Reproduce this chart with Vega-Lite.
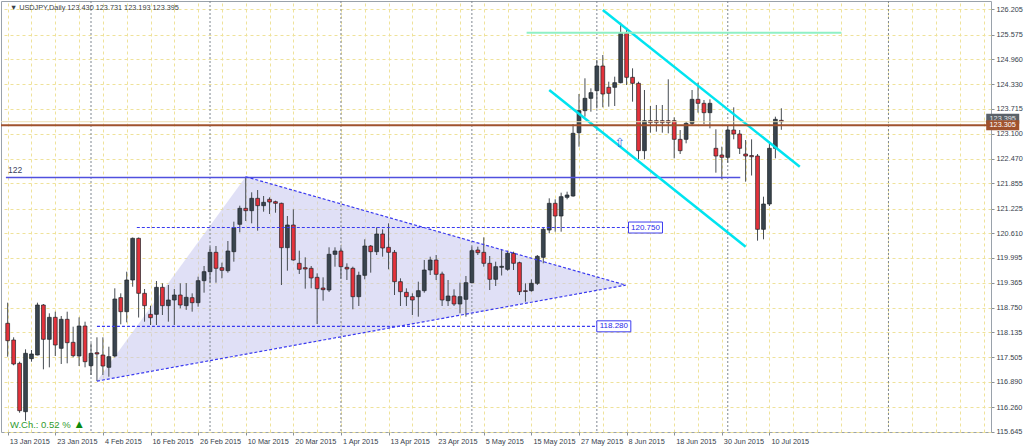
{
 "$schema": "https://vega.github.io/schema/vega-lite/v6.json",
 "width": 990,
 "height": 431,
 "autosize": {"type": "none"},
 "padding": {"left": 1, "top": 1, "right": 33, "bottom": 15},
 "background": "#ffffff",
 "config": {
  "view": {"stroke": "#9aa2ab", "strokeWidth": 1},
  "axis": {"labelFont": "Liberation Sans", "labelFontSize": 7.3, "labelColor": "#38424c", "domain": false, "tickColor": "#8a929a", "titleOpacity": 0, "labelOverlap": false}
 },
 "datasets": {
  "candles": [
   {"d":"2015-01-13","i":0,"o":118.355,"h":118.871,"l":117.521,"c":117.921},
   {"d":"2015-01-14","i":1,"o":117.938,"h":118.005,"l":117.305,"c":117.338},
   {"d":"2015-01-15","i":2,"o":117.355,"h":117.396,"l":116.12,"c":116.171},
   {"d":"2015-01-16","i":3,"o":116.146,"h":117.705,"l":115.92,"c":117.605},
   {"d":"2015-01-19","i":4,"o":117.471,"h":117.688,"l":117.396,"c":117.588},
   {"d":"2015-01-20","i":5,"o":117.563,"h":118.871,"l":117.555,"c":118.813},
   {"d":"2015-01-21","i":6,"o":118.813,"h":118.838,"l":117.205,"c":117.955},
   {"d":"2015-01-22","i":7,"o":117.955,"h":118.605,"l":117.255,"c":118.505},
   {"d":"2015-01-23","i":8,"o":118.505,"h":118.646,"l":117.538,"c":117.813},
   {"d":"2015-01-26","i":9,"o":117.73,"h":118.538,"l":117.338,"c":118.455},
   {"d":"2015-01-27","i":10,"o":118.455,"h":118.646,"l":117.355,"c":117.871},
   {"d":"2015-01-28","i":11,"o":117.88,"h":118.271,"l":117.505,"c":117.546},
   {"d":"2015-01-29","i":12,"o":117.538,"h":118.505,"l":117.288,"c":118.288},
   {"d":"2015-01-30","i":13,"o":118.288,"h":118.396,"l":117.255,"c":117.396},
   {"d":"2015-02-02","i":14,"o":117.296,"h":117.855,"l":117.063,"c":117.605},
   {"d":"2015-02-03","i":15,"o":117.621,"h":118.005,"l":116.91,"c":117.588},
   {"d":"2015-02-04","i":16,"o":117.563,"h":118.005,"l":117.063,"c":117.288},
   {"d":"2015-02-05","i":17,"o":117.255,"h":117.771,"l":117.021,"c":117.521},
   {"d":"2015-02-06","i":18,"o":117.538,"h":119.23,"l":117.505,"c":118.963},
   {"d":"2015-02-09","i":19,"o":118.997,"h":119.105,"l":118.33,"c":118.646},
   {"d":"2015-02-10","i":20,"o":118.646,"h":119.646,"l":118.38,"c":119.438},
   {"d":"2015-02-11","i":21,"o":119.438,"h":120.5,"l":119.27,"c":120.48},
   {"d":"2015-02-12","i":22,"o":120.48,"h":120.5,"l":118.5,"c":119.105},
   {"d":"2015-02-13","i":23,"o":119.105,"h":119.213,"l":118.396,"c":118.796},
   {"d":"2015-02-16","i":24,"o":118.58,"h":118.796,"l":118.313,"c":118.496},
   {"d":"2015-02-17","i":25,"o":118.58,"h":119.413,"l":118.313,"c":119.255},
   {"d":"2015-02-18","i":26,"o":119.255,"h":119.355,"l":118.563,"c":118.796},
   {"d":"2015-02-19","i":27,"o":118.796,"h":119.313,"l":118.396,"c":118.938},
   {"d":"2015-02-20","i":28,"o":118.938,"h":119.213,"l":118.313,"c":119.063},
   {"d":"2015-02-23","i":29,"o":119.063,"h":119.355,"l":118.73,"c":118.813},
   {"d":"2015-02-24","i":30,"o":118.796,"h":119.36,"l":118.69,"c":119.005},
   {"d":"2015-02-25","i":31,"o":118.996,"h":119.105,"l":118.646,"c":118.871},
   {"d":"2015-02-26","i":32,"o":118.871,"h":119.521,"l":118.771,"c":119.421},
   {"d":"2015-02-27","i":33,"o":119.421,"h":119.788,"l":119.121,"c":119.646},
   {"d":"2015-03-02","i":34,"o":119.646,"h":120.271,"l":119.371,"c":120.13},
   {"d":"2015-03-03","i":35,"o":120.13,"h":120.288,"l":119.371,"c":119.73},
   {"d":"2015-03-04","i":36,"o":119.746,"h":119.871,"l":119.48,"c":119.68},
   {"d":"2015-03-05","i":37,"o":119.671,"h":120.413,"l":119.621,"c":120.163},
   {"d":"2015-03-06","i":38,"o":120.146,"h":120.896,"l":119.896,"c":120.746},
   {"d":"2015-03-09","i":39,"o":120.83,"h":121.296,"l":120.63,"c":121.23},
   {"d":"2015-03-10","i":40,"o":121.23,"h":122.021,"l":120.913,"c":121.171},
   {"d":"2015-03-11","i":41,"o":121.171,"h":121.63,"l":120.855,"c":121.48},
   {"d":"2015-03-12","i":42,"o":121.48,"h":121.688,"l":120.671,"c":121.296},
   {"d":"2015-03-13","i":43,"o":121.296,"h":121.538,"l":121.146,"c":121.38},
   {"d":"2015-03-16","i":44,"o":121.455,"h":121.505,"l":121.088,"c":121.388},
   {"d":"2015-03-17","i":45,"o":121.396,"h":121.421,"l":121.121,"c":121.355},
   {"d":"2015-03-18","i":46,"o":121.355,"h":121.371,"l":119.313,"c":120.246},
   {"d":"2015-03-19","i":47,"o":120.246,"h":121.038,"l":119.671,"c":120.813},
   {"d":"2015-03-20","i":48,"o":120.813,"h":121.205,"l":119.921,"c":119.938},
   {"d":"2015-03-23","i":49,"o":119.855,"h":120.171,"l":119.588,"c":119.705},
   {"d":"2015-03-24","i":50,"o":119.746,"h":120.005,"l":119.221,"c":119.713},
   {"d":"2015-03-25","i":51,"o":119.73,"h":119.788,"l":119.23,"c":119.488},
   {"d":"2015-03-26","i":52,"o":119.505,"h":119.605,"l":118.338,"c":119.221},
   {"d":"2015-03-27","i":53,"o":119.238,"h":119.505,"l":118.921,"c":119.196},
   {"d":"2015-03-30","i":54,"o":119.188,"h":120.255,"l":119.138,"c":120.08},
   {"d":"2015-03-31","i":55,"o":120.08,"h":120.255,"l":119.771,"c":120.163},
   {"d":"2015-04-01","i":56,"o":120.163,"h":120.255,"l":119.471,"c":119.771},
   {"d":"2015-04-02","i":57,"o":119.755,"h":119.855,"l":119.438,"c":119.713},
   {"d":"2015-04-03","i":58,"o":119.73,"h":119.771,"l":118.705,"c":119.021},
   {"d":"2015-04-06","i":59,"o":119.021,"h":119.646,"l":118.788,"c":119.555},
   {"d":"2015-04-07","i":60,"o":119.555,"h":120.455,"l":119.455,"c":120.288},
   {"d":"2015-04-08","i":61,"o":120.288,"h":120.313,"l":119.621,"c":120.146},
   {"d":"2015-04-09","i":62,"o":120.146,"h":120.755,"l":120.063,"c":120.588},
   {"d":"2015-04-10","i":63,"o":120.588,"h":120.705,"l":120.021,"c":120.238},
   {"d":"2015-04-13","i":64,"o":120.255,"h":120.855,"l":119.705,"c":120.13},
   {"d":"2015-04-14","i":65,"o":120.13,"h":120.188,"l":119.063,"c":119.396},
   {"d":"2015-04-15","i":66,"o":119.396,"h":119.48,"l":118.788,"c":119.146},
   {"d":"2015-04-16","i":67,"o":119.13,"h":119.23,"l":118.788,"c":119.021},
   {"d":"2015-04-17","i":68,"o":119.021,"h":119.105,"l":118.563,"c":118.938},
   {"d":"2015-04-20","i":69,"o":119.021,"h":119.396,"l":118.521,"c":119.171},
   {"d":"2015-04-21","i":70,"o":119.171,"h":119.938,"l":119.121,"c":119.688},
   {"d":"2015-04-22","i":71,"o":119.688,"h":120.021,"l":119.563,"c":119.938},
   {"d":"2015-04-23","i":72,"o":119.938,"h":120.063,"l":119.438,"c":119.58},
   {"d":"2015-04-24","i":73,"o":119.588,"h":119.646,"l":118.788,"c":118.938},
   {"d":"2015-04-27","i":74,"o":118.921,"h":119.438,"l":118.788,"c":119.038},
   {"d":"2015-04-28","i":75,"o":119.038,"h":119.205,"l":118.788,"c":118.838},
   {"d":"2015-04-29","i":76,"o":118.838,"h":119.371,"l":118.605,"c":119.021},
   {"d":"2015-04-30","i":77,"o":118.955,"h":119.538,"l":118.521,"c":119.371},
   {"d":"2015-05-01","i":78,"o":119.371,"h":120.271,"l":119.355,"c":120.171},
   {"d":"2015-05-04","i":79,"o":120.188,"h":120.271,"l":120.063,"c":120.121},
   {"d":"2015-05-05","i":80,"o":120.13,"h":120.505,"l":119.771,"c":119.855},
   {"d":"2015-05-06","i":81,"o":119.855,"h":120.038,"l":119.188,"c":119.455},
   {"d":"2015-05-07","i":82,"o":119.455,"h":119.896,"l":119.288,"c":119.771},
   {"d":"2015-05-08","i":83,"o":119.755,"h":120.2,"l":119.55,"c":119.78},
   {"d":"2015-05-11","i":84,"o":119.705,"h":120.171,"l":119.67,"c":120.105},
   {"d":"2015-05-12","i":85,"o":120.105,"h":120.146,"l":119.688,"c":119.855},
   {"d":"2015-05-13","i":86,"o":119.871,"h":119.896,"l":119.063,"c":119.146},
   {"d":"2015-05-14","i":87,"o":119.17,"h":119.355,"l":118.896,"c":119.15},
   {"d":"2015-05-15","i":88,"o":119.171,"h":119.455,"l":119.146,"c":119.355},
   {"d":"2015-05-18","i":89,"o":119.355,"h":120.063,"l":119.313,"c":120.03},
   {"d":"2015-05-19","i":90,"o":120.005,"h":120.755,"l":119.855,"c":120.705},
   {"d":"2015-05-20","i":91,"o":120.688,"h":121.48,"l":120.605,"c":121.355},
   {"d":"2015-05-21","i":92,"o":121.355,"h":121.455,"l":120.646,"c":121.038},
   {"d":"2015-05-22","i":93,"o":121.038,"h":121.621,"l":120.646,"c":121.521},
   {"d":"2015-05-25","i":94,"o":121.505,"h":121.646,"l":121.455,"c":121.563},
   {"d":"2015-05-26","i":95,"o":121.538,"h":123.338,"l":121.52,"c":123.105},
   {"d":"2015-05-27","i":96,"o":123.121,"h":124.088,"l":122.771,"c":123.671},
   {"d":"2015-05-28","i":97,"o":123.671,"h":124.48,"l":123.521,"c":123.98},
   {"d":"2015-05-29","i":98,"o":123.98,"h":124.23,"l":123.646,"c":124.121},
   {"d":"2015-06-01","i":99,"o":124.171,"h":124.938,"l":123.73,"c":124.788},
   {"d":"2015-06-02","i":100,"o":124.788,"h":125.063,"l":123.755,"c":124.088},
   {"d":"2015-06-03","i":101,"o":124.255,"h":124.396,"l":123.771,"c":124.105},
   {"d":"2015-06-04","i":102,"o":124.255,"h":124.521,"l":123.788,"c":124.371},
   {"d":"2015-06-05","i":103,"o":124.371,"h":125.871,"l":124.355,"c":125.605},
   {"d":"2015-06-08","i":104,"o":125.605,"h":125.73,"l":124.313,"c":124.505},
   {"d":"2015-06-09","i":105,"o":124.505,"h":124.73,"l":123.896,"c":124.355},
   {"d":"2015-06-10","i":106,"o":124.355,"h":124.396,"l":122.455,"c":122.671},
   {"d":"2015-06-11","i":107,"o":122.671,"h":124.188,"l":122.455,"c":123.421},
   {"d":"2015-06-12","i":108,"o":123.421,"h":123.788,"l":123.121,"c":123.371},
   {"d":"2015-06-15","i":109,"o":123.421,"h":123.813,"l":123.146,"c":123.371},
   {"d":"2015-06-16","i":110,"o":123.421,"h":123.813,"l":123.121,"c":123.371},
   {"d":"2015-06-17","i":111,"o":123.421,"h":124.455,"l":123.105,"c":123.371},
   {"d":"2015-06-18","i":112,"o":123.421,"h":123.505,"l":122.48,"c":122.955},
   {"d":"2015-06-19","i":113,"o":122.955,"h":123.188,"l":122.588,"c":122.671},
   {"d":"2015-06-22","i":114,"o":122.955,"h":123.396,"l":122.855,"c":123.355},
   {"d":"2015-06-23","i":115,"o":123.355,"h":124.188,"l":123.313,"c":123.955},
   {"d":"2015-06-24","i":116,"o":123.955,"h":124.371,"l":123.621,"c":123.855},
   {"d":"2015-06-25","i":117,"o":123.855,"h":123.938,"l":123.338,"c":123.621},
   {"d":"2015-06-26","i":118,"o":123.621,"h":123.955,"l":123.23,"c":123.855},
   {"d":"2015-06-29","i":119,"o":122.73,"h":123.205,"l":122.121,"c":122.538},
   {"d":"2015-06-30","i":120,"o":122.563,"h":122.771,"l":121.955,"c":122.505},
   {"d":"2015-07-01","i":121,"o":122.505,"h":123.313,"l":122.371,"c":123.188},
   {"d":"2015-07-02","i":122,"o":123.188,"h":123.755,"l":122.955,"c":123.088},
   {"d":"2015-07-03","i":123,"o":123.088,"h":123.188,"l":122.588,"c":122.73},
   {"d":"2015-07-06","i":124,"o":122.588,"h":122.938,"l":121.896,"c":122.538},
   {"d":"2015-07-07","i":125,"o":122.55,"h":122.955,"l":122.05,"c":122.52},
   {"d":"2015-07-08","i":126,"o":122.538,"h":122.588,"l":120.421,"c":120.705},
   {"d":"2015-07-09","i":127,"o":120.705,"h":121.521,"l":120.455,"c":121.338},
   {"d":"2015-07-10","i":128,"o":121.338,"h":122.896,"l":121.288,"c":122.73},
   {"d":"2015-07-13","i":129,"o":122.73,"h":123.521,"l":122.48,"c":123.455},
   {"d":"2015-07-14","i":130,"o":123.43,"h":123.731,"l":123.193,"c":123.395}
  ],
  "tri": [
   {"i":15,"p":116.91,"p2":116.91},
   {"i":40,"p":122.02,"p2":117.585},
   {"i":103.85,"p":119.31,"p2":119.31}
  ],
  "seps": [
   {"d":"2015-02-02","i":14},{"d":"2015-03-02","i":34},{"d":"2015-04-01","i":56},
   {"d":"2015-05-01","i":78},{"d":"2015-06-01","i":99},{"d":"2015-07-01","i":121},{"d":"2015-08-01","i":148}
  ],
  "segs": [
   {"kind":"level","a":-0.3,"b":123.1,"pa":122.0,"pb":122.0},
   {"kind":"tri","a":15,"b":103.85,"pa":116.91,"pb":119.31},
   {"kind":"tri","a":40,"b":103.85,"pa":122.02,"pb":119.31},
   {"kind":"dash","a":21.7,"b":104.3,"pa":120.75,"pb":120.75},
   {"kind":"dash","a":15.0,"b":99.0,"pa":118.28,"pb":118.28},
   {"kind":"channel","a":100.0,"b":133.1,"pa":126.19,"pb":122.27},
   {"kind":"channel","a":91.0,"b":124.0,"pa":124.19,"pb":120.27},
   {"kind":"target","a":87.2,"b":140.1,"pa":125.62,"pb":125.62}
  ],
  "hl": [
   {"kind":"bid","p":123.395},
   {"kind":"line","p":123.305}
  ],
  "notes": [
   {"kind":"header","t":"▼ USDJPY,Daily  123.430 123.731 123.193 123.395","i":0.38,"p":126.25},
   {"kind":"level","t":"122","i":0.05,"p":122.188},
   {"kind":"wch","t":"W.Ch.: 0.52 %","i":0.38,"p":115.813},
   {"kind":"wchup","t":"▲","i":12.03,"p":115.838},
   {"kind":"arrow","t":"⇧","i":102.84,"p":122.863}
  ],
  "boxes": [
   {"kind":"lvl","t":"120.750","i":107.17,"p":120.75},
   {"kind":"lvl","t":"118.280","i":101.85,"p":118.28},
   {"kind":"bidtag","t":"123.395","i":167.2,"p":123.395},
   {"kind":"linetag","t":"123.305","i":167.2,"p":123.305}
  ]
 },
 "resolve": {"axis": {"x": "independent", "y": "independent"}},
 "layer": [
  {
   "data": {"name": "tri"},
   "mark": {"type": "area", "color": "#c6c6ef", "opacity": 0.55},
   "encoding": {
    "x": {"field": "i", "type": "quantitative", "title": null,
     "scale": {"domain": [-0.283, 164.39], "nice": false, "zero": false},
     "axis": {"orient": "top", "values": [0,4,8,12,16,20,24,28,32,36,40,44,48,52,56,60,64,68,72,76,80,84,88,92,96,100,104,108,112,116,120,124,128,132,136,140,144,148,152,156,160,164],
      "grid": true, "gridColor": "#efe29a", "gridDash": [3,3], "labels": false, "ticks": false, "domain": false}},
    "y": {"field": "p", "type": "quantitative", "title": null,
     "scale": {"domain": [115.638, 126.413], "nice": false, "zero": false},
     "axis": {"orient": "right", "values": [115.645,116.26,116.89,117.505,118.135,118.75,119.365,119.995,120.61,121.225,121.855,122.47,123.1,123.715,124.33,124.96,125.575,126.205],
      "format": ".3f", "grid": true, "gridColor": "#efe29a", "gridDash": [3,3], "tickSize": 3, "labelPadding": 2, "labelBaseline": "middle", "labelOverlap": false, "labelSeparation": 0, "labelBound": false, "domain": false}},
    "y2": {"field": "p2"}
   }
  },
  {
   "data": {"name": "seps"},
   "mark": {"type": "rule", "color": "#7f8790", "strokeDash": [2,2], "strokeWidth": 1},
   "encoding": {"x": {"field": "i", "type": "quantitative", "axis": null}}
  },
  {
   "data": {"name": "candles"},
   "mark": {"type": "rule", "color": "#464c52", "strokeWidth": 1},
   "encoding": {
    "x": {"field": "i", "type": "quantitative", "title": null,
     "axis": {"orient": "bottom", "values": [0,8,16,24,32,40,48,56,64,72,80,88,96,104,112,120,128],
      "labelExpr": "['13 Jan 2015','23 Jan 2015','4 Feb 2015','16 Feb 2015','26 Feb 2015','10 Mar 2015','20 Mar 2015','1 Apr 2015','13 Apr 2015','23 Apr 2015','5 May 2015','15 May 2015','27 May 2015','8 Jun 2015','18 Jun 2015','30 Jun 2015','10 Jul 2015'][round(datum.value/8)]",
      "grid": false, "tickSize": 3, "labelAlign": "left", "labelOffset": 1.5, "labelPadding": 2, "labelBaseline": "top", "labelOverlap": false, "labelBound": false, "labelFlush": false, "domain": false}},
    "y": {"field": "l", "type": "quantitative", "axis": null},
    "y2": {"field": "h"}
   }
  },
  {
   "data": {"name": "candles"},
   "mark": {"type": "bar", "size": 3.8, "stroke": "#1e2428", "strokeWidth": 0.7},
   "encoding": {
    "x": {"field": "i", "type": "quantitative", "axis": null},
    "y": {"field": "o", "type": "quantitative", "axis": null},
    "y2": {"field": "c"},
    "color": {"condition": {"test": "datum.c >= datum.o", "value": "#39444e"}, "value": "#e4323b"}
   }
  },
  {
   "data": {"name": "segs"},
   "transform": [{"filter": "datum.kind === 'level'"}],
   "mark": {"type": "rule", "color": "#5050de", "strokeWidth": 1.3},
   "encoding": {"x": {"field": "a", "type": "quantitative", "axis": null}, "x2": {"field": "b"}, "y": {"field": "pa", "type": "quantitative", "axis": null}, "y2": {"field": "pb"}}
  },
  {
   "data": {"name": "segs"},
   "transform": [{"filter": "datum.kind === 'tri' || datum.kind === 'dash'"}],
   "mark": {"type": "rule", "color": "#3a3af0", "strokeWidth": 1.2, "strokeDash": [3,2]},
   "encoding": {"x": {"field": "a", "type": "quantitative", "axis": null}, "x2": {"field": "b"}, "y": {"field": "pa", "type": "quantitative", "axis": null}, "y2": {"field": "pb"}}
  },
  {
   "data": {"name": "segs"},
   "transform": [{"filter": "datum.kind === 'channel'"}],
   "mark": {"type": "rule", "color": "#00e4f0", "strokeWidth": 2.5},
   "encoding": {"x": {"field": "a", "type": "quantitative", "axis": null}, "x2": {"field": "b"}, "y": {"field": "pa", "type": "quantitative", "axis": null}, "y2": {"field": "pb"}}
  },
  {
   "data": {"name": "segs"},
   "transform": [{"filter": "datum.kind === 'target'"}],
   "mark": {"type": "rule", "color": "#8ff0c6", "strokeWidth": 2},
   "encoding": {"x": {"field": "a", "type": "quantitative", "axis": null}, "x2": {"field": "b"}, "y": {"field": "pa", "type": "quantitative", "axis": null}, "y2": {"field": "pb"}}
  },
  {
   "data": {"name": "hl"},
   "transform": [{"filter": "datum.kind === 'bid'"}],
   "mark": {"type": "rule", "color": "#eedfb2", "strokeWidth": 1},
   "encoding": {"y": {"field": "p", "type": "quantitative", "axis": null}}
  },
  {
   "data": {"name": "hl"},
   "transform": [{"filter": "datum.kind === 'line'"}],
   "mark": {"type": "rule", "color": "#a0522d", "strokeWidth": 2},
   "encoding": {"y": {"field": "p", "type": "quantitative", "axis": null}}
  },
  {
   "data": {"name": "boxes"},
   "transform": [{"filter": "datum.kind === 'lvl'"}],
   "mark": {"type": "rect", "width": 34, "height": 11, "fill": "#ffffff", "stroke": "#3c3cf0", "strokeWidth": 1},
   "encoding": {"x": {"field": "i", "type": "quantitative", "axis": null}, "y": {"field": "p", "type": "quantitative", "axis": null}}
  },
  {
   "data": {"name": "boxes"},
   "transform": [{"filter": "datum.kind === 'lvl'"}],
   "mark": {"type": "text", "font": "Liberation Sans", "fontSize": 8, "color": "#2a2ae8", "align": "center", "baseline": "middle"},
   "encoding": {"x": {"field": "i", "type": "quantitative", "axis": null}, "y": {"field": "p", "type": "quantitative", "axis": null}, "text": {"field": "t"}}
  },
  {
   "data": {"name": "boxes"},
   "transform": [{"filter": "datum.kind === 'bidtag'"}],
   "mark": {"type": "rect", "width": 33, "height": 10, "fill": "#5a6169", "yOffset": -3},
   "encoding": {"x": {"field": "i", "type": "quantitative", "axis": null}, "y": {"field": "p", "type": "quantitative", "axis": null}}
  },
  {
   "data": {"name": "boxes"},
   "transform": [{"filter": "datum.kind === 'bidtag'"}],
   "mark": {"type": "text", "font": "Liberation Sans", "fontSize": 7.3, "color": "#e8e8e8", "align": "center", "baseline": "middle", "yOffset": -3},
   "encoding": {"x": {"field": "i", "type": "quantitative", "axis": null}, "y": {"field": "p", "type": "quantitative", "axis": null}, "text": {"field": "t"}}
  },
  {
   "data": {"name": "boxes"},
   "transform": [{"filter": "datum.kind === 'linetag'"}],
   "mark": {"type": "rect", "width": 33, "height": 10, "fill": "#a0522d"},
   "encoding": {"x": {"field": "i", "type": "quantitative", "axis": null}, "y": {"field": "p", "type": "quantitative", "axis": null}}
  },
  {
   "data": {"name": "boxes"},
   "transform": [{"filter": "datum.kind === 'linetag'"}],
   "mark": {"type": "text", "font": "Liberation Sans", "fontSize": 7.3, "color": "#ffffff", "align": "center", "baseline": "middle"},
   "encoding": {"x": {"field": "i", "type": "quantitative", "axis": null}, "y": {"field": "p", "type": "quantitative", "axis": null}, "text": {"field": "t"}}
  },
  {
   "data": {"name": "notes"},
   "transform": [{"filter": "datum.kind === 'header'"}],
   "mark": {"type": "text", "font": "Liberation Sans", "fontSize": 7.3, "color": "#3a3f46", "align": "left", "baseline": "middle"},
   "encoding": {"x": {"field": "i", "type": "quantitative", "axis": null}, "y": {"field": "p", "type": "quantitative", "axis": null}, "text": {"field": "t"}}
  },
  {
   "data": {"name": "notes"},
   "transform": [{"filter": "datum.kind === 'level'"}],
   "mark": {"type": "text", "font": "Liberation Sans", "fontSize": 8.5, "color": "#3c4260", "align": "left", "baseline": "middle"},
   "encoding": {"x": {"field": "i", "type": "quantitative", "axis": null}, "y": {"field": "p", "type": "quantitative", "axis": null}, "text": {"field": "t"}}
  },
  {
   "data": {"name": "notes"},
   "transform": [{"filter": "datum.kind === 'wch'"}],
   "mark": {"type": "text", "font": "Liberation Sans", "fontSize": 9.5, "color": "#2f9a2f", "align": "left", "baseline": "middle"},
   "encoding": {"x": {"field": "i", "type": "quantitative", "axis": null}, "y": {"field": "p", "type": "quantitative", "axis": null}, "text": {"field": "t"}}
  },
  {
   "data": {"name": "notes"},
   "transform": [{"filter": "datum.kind === 'wchup'"}],
   "mark": {"type": "text", "font": "DejaVu Sans", "fontSize": 9, "color": "#0c8a0c", "align": "center", "baseline": "middle"},
   "encoding": {"x": {"field": "i", "type": "quantitative", "axis": null}, "y": {"field": "p", "type": "quantitative", "axis": null}, "text": {"field": "t"}}
  },
  {
   "data": {"name": "notes"},
   "transform": [{"filter": "datum.kind === 'arrow'"}],
   "mark": {"type": "text", "font": "DejaVu Sans", "fontSize": 13, "color": "#3f6fe0", "align": "center", "baseline": "middle"},
   "encoding": {"x": {"field": "i", "type": "quantitative", "axis": null}, "y": {"field": "p", "type": "quantitative", "axis": null}, "text": {"field": "t"}}
  }
 ]
}
